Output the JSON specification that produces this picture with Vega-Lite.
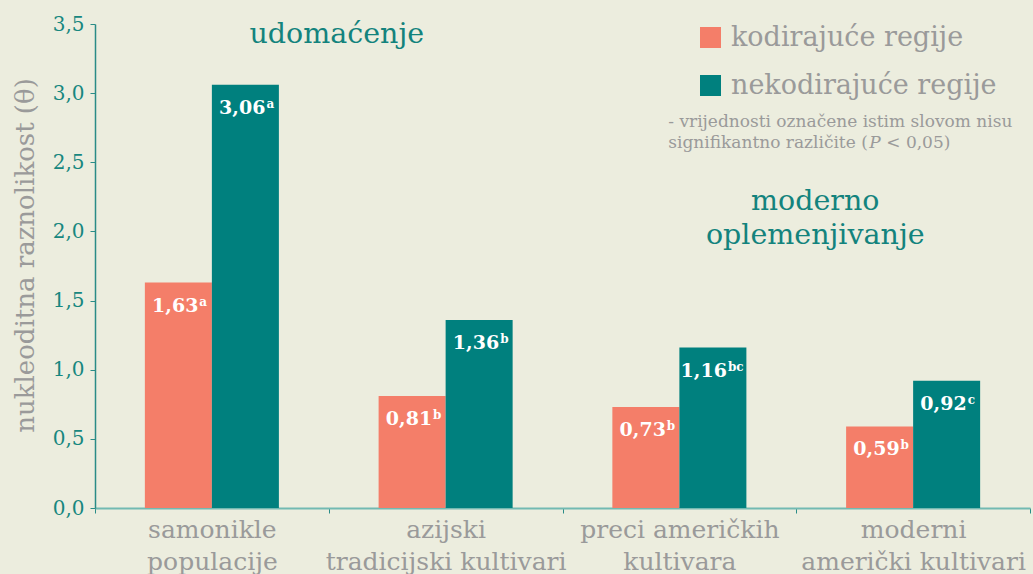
{
  "$schema": "https://vega.github.io/schema/vega-lite/v6.json",
  "width": 935,
  "height": 484,
  "autosize": {"type": "none"},
  "padding": {"left": 95, "top": 24, "right": 3, "bottom": 66},
  "background": "#ecedde",
  "config": {
    "view": {"stroke": null},
    "font": "DejaVu Serif"
  },
  "datasets": {
    "bars": [
      {"group": "samonikle|populacije", "series": "kodirajuće regije", "value": 1.63, "label": "1,63", "sig": "a"},
      {"group": "samonikle|populacije", "series": "nekodirajuće regije", "value": 3.06, "label": "3,06", "sig": "a"},
      {"group": "azijski|tradicijski kultivari", "series": "kodirajuće regije", "value": 0.81, "label": "0,81", "sig": "b"},
      {"group": "azijski|tradicijski kultivari", "series": "nekodirajuće regije", "value": 1.36, "label": "1,36", "sig": "b"},
      {"group": "preci američkih|kultivara", "series": "kodirajuće regije", "value": 0.73, "label": "0,73", "sig": "b"},
      {"group": "preci američkih|kultivara", "series": "nekodirajuće regije", "value": 1.16, "label": "1,16", "sig": "bc"},
      {"group": "moderni|američki kultivari", "series": "kodirajuće regije", "value": 0.59, "label": "0,59", "sig": "b"},
      {"group": "moderni|američki kultivari", "series": "nekodirajuće regije", "value": 0.92, "label": "0,92", "sig": "c"}
    ],
    "notes1": [
      {"group": "samonikle|populacije", "value": 3.36, "text": "udomaćenje"}
    ],
    "notes2": [
      {"group": "preci američkih|kultivara", "value": 2.155, "text": "moderno"},
      {"group": "preci američkih|kultivara", "value": 1.909, "text": "oplemenjivanje"}
    ],
    "footnote": [
      {"group": "moderni|američki kultivari", "value": 2.755, "text": "- vrijednosti označene istim slovom nisu"},
      {"group": "moderni|američki kultivari", "value": 2.603, "text": "signifikantno različite ("}
    ],
    "footP": [
      {"group": "moderni|američki kultivari", "value": 2.603, "text": "P"}
    ],
    "footEnd": [
      {"group": "moderni|američki kultivari", "value": 2.603, "text": "< 0,05)"}
    ]
  },
  "encoding": {
    "x": {
      "field": "group",
      "type": "nominal",
      "sort": null,
      "scale": {"paddingInner": 0, "paddingOuter": 0, "domain": ["samonikle|populacije", "azijski|tradicijski kultivari", "preci američkih|kultivara", "moderni|američki kultivari"]},
      "axis": {
        "title": null,
        "labelAngle": 0,
        "labelExpr": "split(datum.label, '|')",
        "labelFont": "DejaVu Serif",
        "labelFontSize": 25,
        "labelColor": "#9a9a9a",
        "labelLineHeight": 32,
        "labelLimit": 500,
        "labelPadding": 4,
        "labelOverlap": false,
        "tickBand": "extent",
        "tickColor": "#2a8c87",
        "tickSize": 5,
        "domainColor": "#72bab2",
        "domainWidth": 2
      }
    },
    "y": {
      "field": "value",
      "type": "quantitative",
      "scale": {"domain": [0, 3.5], "nice": false},
      "axis": {
        "title": "nukleoditna raznolikost (θ)",
        "titleFont": "DejaVu Serif",
        "titleFontSize": 26,
        "titleFontWeight": "normal",
        "titleColor": "#9a9a9a",
        "titlePadding": 14,
        "titleY": 231,
        "values": [0, 0.5, 1, 1.5, 2, 2.5, 3, 3.5],
        "labelExpr": "replace(format(datum.value, '.1f'), '.', ',')",
        "labelFont": "DejaVu Serif",
        "labelFontSize": 20,
        "labelColor": "#17877f",
        "labelPadding": 6,
        "tickColor": "#2a8c87",
        "tickSize": 5,
        "domainColor": "#2a8c87",
        "domainWidth": 1.5,
        "grid": false
      }
    }
  },
  "layer": [
    {
      "data": {"name": "bars"},
      "mark": {"type": "bar"},
      "encoding": {
        "xOffset": {"field": "series", "type": "nominal", "scale": {"paddingInner": 0, "paddingOuter": 0.744}},
        "color": {
          "field": "series",
          "type": "nominal",
          "scale": {"domain": ["kodirajuće regije", "nekodirajuće regije"], "range": ["#f47e69", "#00807e"]},
          "legend": {
            "title": null,
            "orient": "none",
            "legendX": 602,
            "legendY": 0,
            "symbolType": "square",
            "symbolSize": 441,
            "symbolStrokeWidth": 0,
            "symbolOpacity": 1,
            "labelFont": "DejaVu Serif",
            "labelFontSize": 27,
            "labelColor": "#9a9a9a",
            "labelOffset": 7,
            "labelLimit": 400,
            "rowPadding": 20
          }
        }
      }
    },
    {
      "data": {"name": "bars"},
      "transform": [{"filter": "length(datum.sig) == 1"}],
      "mark": {"type": "text", "align": "right", "baseline": "alphabetic", "dx": 20, "dy": 29, "font": "DejaVu Serif", "fontWeight": "bold", "fontSize": 19, "color": "white"},
      "encoding": {
        "xOffset": {"field": "series", "type": "nominal", "scale": {"paddingInner": 0, "paddingOuter": 0.744}},
        "text": {"field": "label"}
      }
    },
    {
      "data": {"name": "bars"},
      "transform": [{"filter": "length(datum.sig) == 1"}],
      "mark": {"type": "text", "align": "left", "baseline": "alphabetic", "dx": 21, "dy": 23, "font": "DejaVu Serif", "fontWeight": "bold", "fontSize": 12, "color": "white"},
      "encoding": {
        "xOffset": {"field": "series", "type": "nominal", "scale": {"paddingInner": 0, "paddingOuter": 0.744}},
        "text": {"field": "sig"}
      }
    },
    {
      "data": {"name": "bars"},
      "transform": [{"filter": "length(datum.sig) == 2"}],
      "mark": {"type": "text", "align": "right", "baseline": "alphabetic", "dx": 14, "dy": 29, "font": "DejaVu Serif", "fontWeight": "bold", "fontSize": 19, "color": "white"},
      "encoding": {
        "xOffset": {"field": "series", "type": "nominal", "scale": {"paddingInner": 0, "paddingOuter": 0.744}},
        "text": {"field": "label"}
      }
    },
    {
      "data": {"name": "bars"},
      "transform": [{"filter": "length(datum.sig) == 2"}],
      "mark": {"type": "text", "align": "left", "baseline": "alphabetic", "dx": 15, "dy": 23, "font": "DejaVu Serif", "fontWeight": "bold", "fontSize": 12, "color": "white"},
      "encoding": {
        "xOffset": {"field": "series", "type": "nominal", "scale": {"paddingInner": 0, "paddingOuter": 0.744}},
        "text": {"field": "sig"}
      }
    },
    {
      "data": {"name": "notes1"},
      "mark": {"type": "text", "align": "center", "baseline": "alphabetic", "font": "DejaVu Serif", "fontSize": 28.5, "color": "#13837d", "dx": 8},
      "encoding": {
        "x": {"field": "group", "type": "nominal", "bandPosition": 1},
        "text": {"field": "text"}
      }
    },
    {
      "data": {"name": "notes2"},
      "mark": {"type": "text", "align": "center", "baseline": "alphabetic", "font": "DejaVu Serif", "fontSize": 28.5, "color": "#13837d", "dx": 19},
      "encoding": {
        "x": {"field": "group", "type": "nominal", "bandPosition": 1},
        "text": {"field": "text"}
      }
    },
    {
      "data": {"name": "footnote"},
      "mark": {"type": "text", "align": "left", "baseline": "alphabetic", "font": "DejaVu Serif", "fontSize": 17, "color": "#9a9a9a", "dx": -128},
      "encoding": {
        "x": {"field": "group", "type": "nominal", "bandPosition": 0},
        "text": {"field": "text"}
      }
    },
    {
      "data": {"name": "footP"},
      "mark": {"type": "text", "align": "left", "baseline": "alphabetic", "font": "DejaVu Serif", "fontSize": 17, "fontStyle": "italic", "color": "#9a9a9a", "dx": 73},
      "encoding": {
        "x": {"field": "group", "type": "nominal", "bandPosition": 0},
        "text": {"field": "text"}
      }
    },
    {
      "data": {"name": "footEnd"},
      "mark": {"type": "text", "align": "left", "baseline": "alphabetic", "font": "DejaVu Serif", "fontSize": 17, "color": "#9a9a9a", "dx": 90},
      "encoding": {
        "x": {"field": "group", "type": "nominal", "bandPosition": 0},
        "text": {"field": "text"}
      }
    }
  ]
}
